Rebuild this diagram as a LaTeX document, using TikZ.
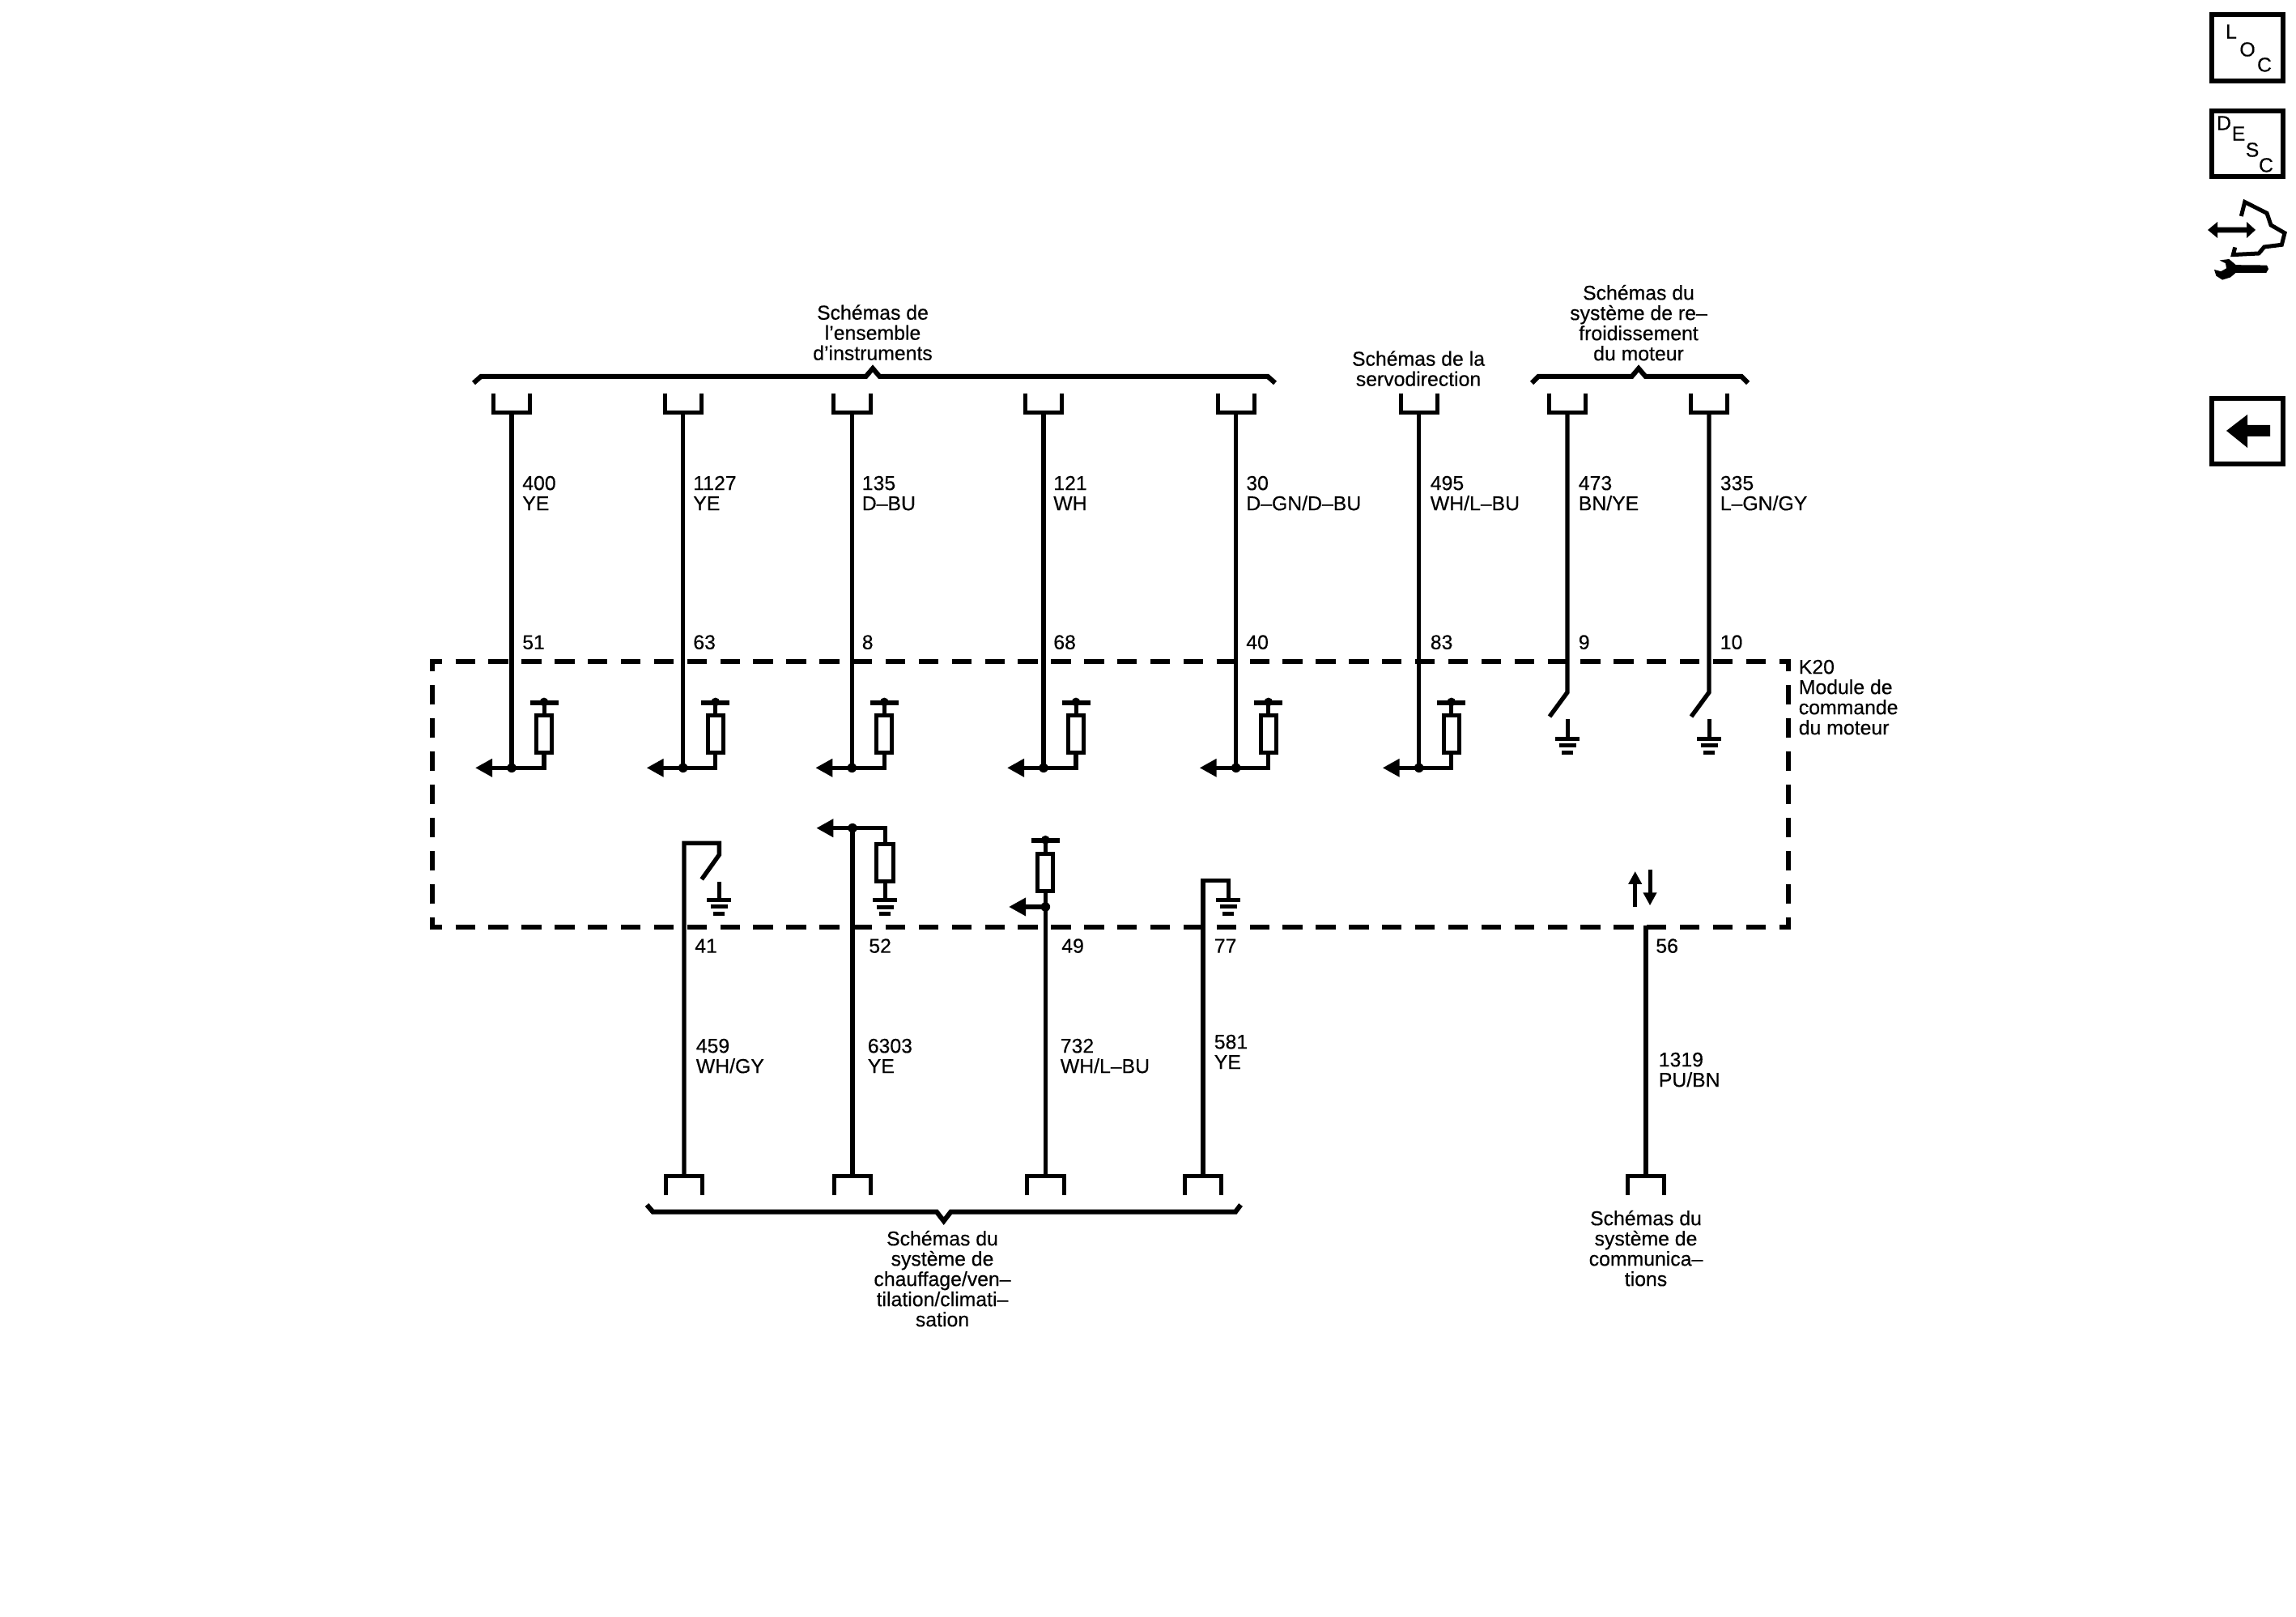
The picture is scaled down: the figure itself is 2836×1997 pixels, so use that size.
\documentclass[tikz,border=0pt]{standalone}
\usepackage{fontspec}
\setmainfont{Liberation Sans}
\newfontfamily\dk[FakeBold=0.35]{Liberation Sans}
\usetikzlibrary{arrows.meta}
\newcommand{\fl}{\rule{0pt}{4.6pt}}
\newcommand{\txtfont}{\dk\fontsize{6.2}{6.25}\selectfont}
\tikzset{
  wire/.style={line width=1.35pt,line join=miter,line cap=butt},
  thinw/.style={line width=1.25pt,line join=miter,line cap=butt},
  bus/.style={line width=1.5pt,line join=miter},
  boxh/.style={line width=1.5pt,dash pattern=on 6.075pt off 4.144pt,dash phase=2.325pt},
  boxv/.style={line width=1.5pt,dash pattern=on 6pt off 4.25pt,dash phase=2.25pt},
  tbar/.style={line width=1.5pt},
  res/.style={draw,rectangle,line width=1.25pt,minimum width=4.75pt,minimum height=11.4pt,inner sep=0pt,fill=white},
  resw/.style={res,minimum width=5.3pt},
  jdot/.style={circle,fill=black,inner sep=0pt,minimum size=2.9pt},
  lab/.style={font=\txtfont,inner sep=0pt,align=left,anchor=north west},
  ttl/.style={font=\txtfont,inner sep=0pt,align=center,anchor=north},
  ltr/.style={font=\txtfont,inner sep=0pt,anchor=center},
  tipL/.style={-{Triangle[length=5.25pt,width=5.35pt]}},
  tipS/.style={-{Triangle[length=4pt,width=4pt]}},
  icon/.style={draw,rectangle,line width=1.5pt,minimum width=22pt,minimum height=20.4pt,inner sep=0pt},
}
\newcommand{\gndsym}[3]{% name, x, y of top bar
  \coordinate (#1) at (#2,#3);
  \draw[thinw] (#2-15,#3) -- (#2+15,#3);
  \draw[thinw] (#2-10.5,#3+8.4) -- (#2+10.5,#3+8.4);
  \draw[thinw] (#2-7,#3+17) -- (#2+7,#3+17);
}
\newcommand{\pullup}[4]{% name, x, y of bar, resistor node
  \coordinate (#1) at (#2,#3);
  \draw[tbar] (#2-17.5,#3) -- (#2+17.5,#3);
  \node[jdot,minimum size=2.7pt] (#1dot) at (#2,#3-1) {};
  \draw[thinw] (#4.north) -- (#1);
}
\begin{document}
\begin{tikzpicture}[x=0.25pt,y=-0.25pt]
\useasboundingbox (0,0) rectangle (2836,1997);
\fill[white] (0,0) rectangle (2836,1997);

% module box
\coordinate (tl) at (531,816.7); \coordinate (tr) at (2212,816.7);
\coordinate (bl) at (531,1145);  \coordinate (br) at (2212,1145);
\coordinate (ltl) at (534,814);  \coordinate (lbl) at (534,1148);
\coordinate (rtl) at (2209,814); \coordinate (rbl) at (2209,1148);
\draw[boxh] (tl) -- (tr);
\draw[boxh] (bl) -- (br);
\draw[boxv] (ltl) -- (lbl);
\draw[boxv] (rtl) -- (rbl);

% top columns with resistor
\foreach \n/\x/\lx/\a/\b/\p in {
  a/632/644.5/400/YE/51,
  b/843.7/855.5/1127/YE/63,
  c/1052.3/1064/135/D–BU/8,
  d/1289/1300.5/121/WH/68,
  e/1526.7/1538.5/30/D–GN\slash D–BU/40,
  f/1752.7/1766/495/WH\slash L–BU/83}{
  \coordinate (\n u) at (\x,510);
  \coordinate (\n j) at (\x,948.3);
  \coordinate (\n tip) at (\x-45,948.3);
  \node[res] (\n res) at (\x+40,906.5) {};
  \draw[thinw] (\x-22.7,486) -- (\x-22.7,510) -- (\x+22.7,510) -- (\x+22.7,486);
  \draw[wire] (\n u) -- (\n j);
  \draw[wire,tipL] (\n res.south) |- (\n tip);
  \node[jdot] (\n dot) at (\n j) {};
  \pullup{\n pu}{\x+40}{868}{\n res}
  \node[lab] (\n lab) at (\lx,586) {\fl\a\\\b};
  \node[lab] (\n pin) at (\lx,782.5) {\fl\p};
}
% switches to ground at top
\foreach \n/\x/\lx/\a/\b/\p in {
  g/1936/1949/473/BN\slash YE/9,
  h/2111/2124/335/L–GN\slash GY/10}{
  \coordinate (\n u) at (\x,510);
  \coordinate (\n k) at (\x,855);
  \coordinate (\n e) at (\x-22,885);
  \coordinate (\n s) at (\x,888);
  \draw[thinw] (\x-22.7,486) -- (\x-22.7,510) -- (\x+22.7,510) -- (\x+22.7,486);
  \draw[wire] (\n u) -- (\n k) -- (\n e);
  \gndsym{\n g}{\x}{912.3}
  \draw[thinw] (\n s) -- (\n g);
  \node[lab] (\n lab) at (\lx,586) {\fl\a\\\b};
  \node[lab] (\n pin) at (\lx,782.5) {\fl\p};
}

% bottom connectors
\foreach \n/\x in {p/845,q/1053,r/1291.3,s/1486,t/2033}{
  \coordinate (\n u) at (\x,1452);
  \draw[thinw] (\x-22.7,1476) -- (\x-22.7,1452) -- (\x+22.7,1452) -- (\x+22.7,1476);
}
% 41
\coordinate (p1) at (845,1041.3); \coordinate (p2) at (888.3,1041.3);
\coordinate (p3) at (888.3,1055.7); \coordinate (p4) at (866.7,1086);
\draw[wire] (pu) -- (p1) -- (p2) -- (p3) -- (p4);
\gndsym{pg}{888.3}{1111.3}
\coordinate (ps) at (888.3,1089);
\draw[thinw] (ps) -- (pg);
% 52
\coordinate (qj) at (1053,1022.7); \coordinate (qtip) at (1008.3,1022.7);
\node[resw] (qres) at (1093.3,1065.3) {};
\draw[wire] (qu) -- (qj);
\draw[wire,tipL] (qres.north) |- (qtip);
\node[jdot] (qdot) at (qj) {};
\gndsym{qg}{1093.3}{1111.7}
\draw[thinw] (qres.south) -- (qg);
% 49
\coordinate (rj) at (1291.3,1120); \coordinate (rtip) at (1246,1120);
\node[res] (rres) at (1291.3,1077.3) {};
\draw[wire] (ru) -- (rres.south);
\draw[wire,tipL] (rj) -- (rtip);
\node[jdot] (rdot) at (rj) {};
\pullup{rpu}{1291.3}{1038.3}{rres}
% 77
\coordinate (s1) at (1486,1087.3); \coordinate (s2) at (1517.7,1087.3);
\gndsym{sg}{1517}{1111.3}
\draw[wire] (su) -- (s1) -- (s2) -- (1517.7,1111.3);
% 56
\coordinate (t1) at (2033,1143);
\draw[wire] (tu) -- (t1);
\coordinate (up0) at (2019.7,1120); \coordinate (up1) at (2019.7,1076);
\coordinate (dn0) at (2038,1074); \coordinate (dn1) at (2038,1118.3);
\draw[thinw,tipS] (up0) -- (up1);
\draw[thinw,tipS] (dn0) -- (dn1);

% bottom labels
\node[lab] (plab) at (859,1281) {\fl 459\\WH\slash GY};
\node[lab] (qlab) at (1071,1281) {\fl 6303\\YE};
\node[lab] (rlab) at (1309,1281) {\fl 732\\WH\slash L–BU};
\node[lab] (slab) at (1499,1276) {\fl 581\\YE};
\node[lab] (tlab) at (2048,1298) {\fl 1319\\PU\slash BN};
\node[lab] (ppin) at (857.5,1157.5) {\fl 41};
\node[lab] (qpin) at (1072.5,1157.5) {\fl 52};
\node[lab] (rpin) at (1310.5,1157.5) {\fl 49};
\node[lab] (spin) at (1499,1157.5) {\fl 77};
\node[lab] (tpin) at (2044.5,1157.5) {\fl 56};

% braces
\coordinate (b1a) at (585,473); \coordinate (b1e) at (1575,473);
\coordinate (b1p) at (1078,455);
\draw[bus] (b1a) -- (594,465) -- (1069.5,465) -- (b1p) -- (1086.5,465) -- (1566,465) -- (b1e);
\coordinate (b2a) at (1892,473); \coordinate (b2e) at (2159,473);
\coordinate (b2p) at (2024,455);
\draw[bus] (b2a) -- (1900,465) -- (2015.5,465) -- (b2p) -- (2032.5,465) -- (2151,465) -- (b2e);
\coordinate (b3a) at (799,1488); \coordinate (b3e) at (1532.5,1488);
\coordinate (b3p) at (1165.7,1508);
\draw[bus] (b3a) -- (806.5,1496.7) -- (1157,1496.7) -- (b3p) -- (1174.4,1496.7) -- (1526,1496.7) -- (b3e);

% titles
\node[ttl] (t1txt) at (1078,375.5) {\fl Schémas de\\l’ensemble\\d’instruments};
\node[ttl] (t2txt) at (1752,432.5) {\fl Schémas de la\\servodirection};
\node[ttl] (t3txt) at (2024,351) {\fl Schémas du\\système de re–\\froidissement\\du moteur};
\node[ttl] (t4txt) at (1164,1519) {\fl Schémas du\\système de\\chauffage\slash ven–\\tilation\slash climati–\\sation};
\node[ttl] (t5txt) at (2033,1494) {\fl Schémas du\\système de\\communica–\\tions};
\node[lab] (k20) at (2221,813) {\fl K20\\Module de\\commande\\du moteur};

% icons
\node[icon] (loc) at (2776,59.3) {};
\node[ltr] (locL) at (2756,39) {L};
\node[ltr] (locO) at (2776,61) {O};
\node[ltr] (locC) at (2797,80) {C};
\node[icon] (desc) at (2776,177.5) {};
\node[ltr] (descD) at (2747,152) {D};
\node[ltr] (descE) at (2765,165) {E};
\node[ltr] (descS) at (2782,185) {S};
\node[ltr] (descC) at (2799,204) {C};
\node[icon] (back) at (2776,532.5) {};
\fill (2750,532) -- (2776,512) -- (2776,525) -- (2804,525) -- (2804,539) -- (2776,539) -- (2776,553) -- cycle;
% hand with arrow and wrench
\fill (2727,284) -- (2739,274) -- (2739,280.7) -- (2775,280.7) -- (2775,274) -- (2786,284) -- (2775,294) -- (2775,287.3) -- (2739,287.3) -- (2739,294) -- cycle;
\draw[line width=1.25pt,line join=miter] (2768.3,267) -- (2772.7,249.5) -- (2800,263.3) -- (2805,278) -- (2822,287.8) -- (2818.3,302.3) -- (2796.7,305) -- (2790,313) -- (2758.3,314.6) -- (2760.7,305.4);
\fill (2741.7,321.5) -- (2753.3,320) -- (2761.7,327.2) -- (2800,327.6) -- (2802,332.2) -- (2799.3,336.8) -- (2761.7,336.8) -- (2755,342.5) -- (2745,345.6) -- (2737.3,340.6) -- (2735,333) -- (2743.3,335.2) -- (2750,331.4) -- (2749,325.3) -- cycle;
\end{tikzpicture}
\end{document}
